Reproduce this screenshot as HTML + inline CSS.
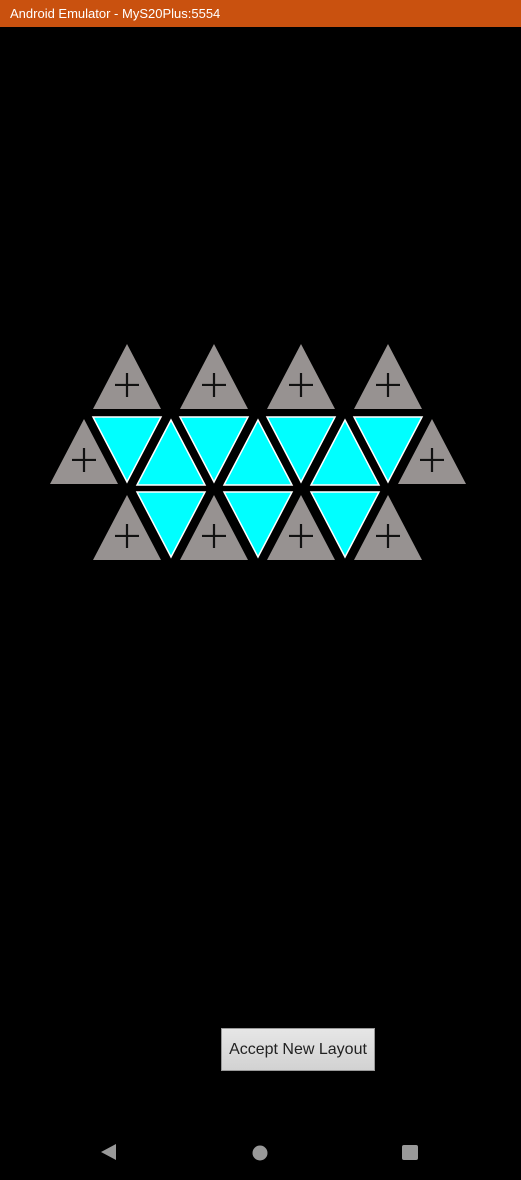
<!DOCTYPE html>
<html><head><meta charset="utf-8"><style>
html,body{margin:0;padding:0;background:#000;width:521px;height:1180px;overflow:hidden;font-family:"Liberation Sans",sans-serif}
#title{position:absolute;left:0;top:0;width:521px;height:27px;background:#c9510f;color:#fff;font-size:13px;line-height:27px;padding-left:10px;box-sizing:border-box}
#btn{position:absolute;left:221px;top:1028px;width:154px;height:43px;background:linear-gradient(#e6e6e6,#d2d2d2);border:1px solid #999;box-sizing:border-box;color:#222;font-size:16px;text-align:center;line-height:41px}
svg{position:absolute;left:0;top:0}
</style></head><body>
<div id="title">Android Emulator - MyS20Plus:5554</div>
<svg id="board" width="521" height="1180"></svg>
<div id="btn">Accept New Layout</div>
<svg width="521" height="1180" style="pointer-events:none">
<polygon points="101,1152 116,1144 116,1160" fill="#999"/>
<circle cx="260" cy="1153" r="7.5" fill="#999"/>
<rect x="402" y="1145" width="16" height="15" rx="2" fill="#999"/>
</svg>
<script>
// tiles: [centerX, rowTopY, direction(up/down), type]
const grayUpX=[127,214,301,388];
const rowTops=[343,418,492];
const cyanDownRow1=[127,214,301,388];
const cyanUpRow1=[171,258,345];
const grayRow1=[84,432];
const cyanDownRow2=[171,258,345];
const grayRow2=[127,214,301,388];
const NS='http://www.w3.org/2000/svg';
const svg=document.getElementById('board');
const HW=34,H=65;
function tri(cx,top,up,kind){
  const p=document.createElementNS(NS,'polygon');
  const pts=up?[[cx,top],[cx-HW,top+H],[cx+HW,top+H]]:[[cx-HW,top],[cx+HW,top],[cx,top+H]];
  p.setAttribute('points',pts.map(a=>a.join(',')).join(' '));
  if(kind==='gray'){p.setAttribute('fill','#979291');}
  else{p.setAttribute('fill','#00ffff');p.setAttribute('stroke','#fff');p.setAttribute('stroke-width','1.5');}
  
  
  svg.appendChild(p);
  if(kind==='gray'){
    const cy=top+H*0.63;
    const g=document.createElementNS(NS,'path');
    g.setAttribute('d',`M${cx-12},${cy}H${cx+12}M${cx},${cy-12}V${cx?cy+12:0}`);
    g.setAttribute('stroke','#111');g.setAttribute('stroke-width','2.2');
    
    
    svg.appendChild(g);
  }
}
grayUpX.forEach(x=>tri(x,rowTops[0]+1,true,'gray'));
cyanDownRow1.forEach(x=>tri(x,417,false,'cyan'));
cyanUpRow1.forEach(x=>tri(x,420,true,'cyan'));
grayRow1.forEach(x=>tri(x,419,true,'gray'));
cyanDownRow2.forEach(x=>tri(x,rowTops[2],false,'cyan'));
grayRow2.forEach(x=>tri(x,495,true,'gray'));
</script>
</body></html>
